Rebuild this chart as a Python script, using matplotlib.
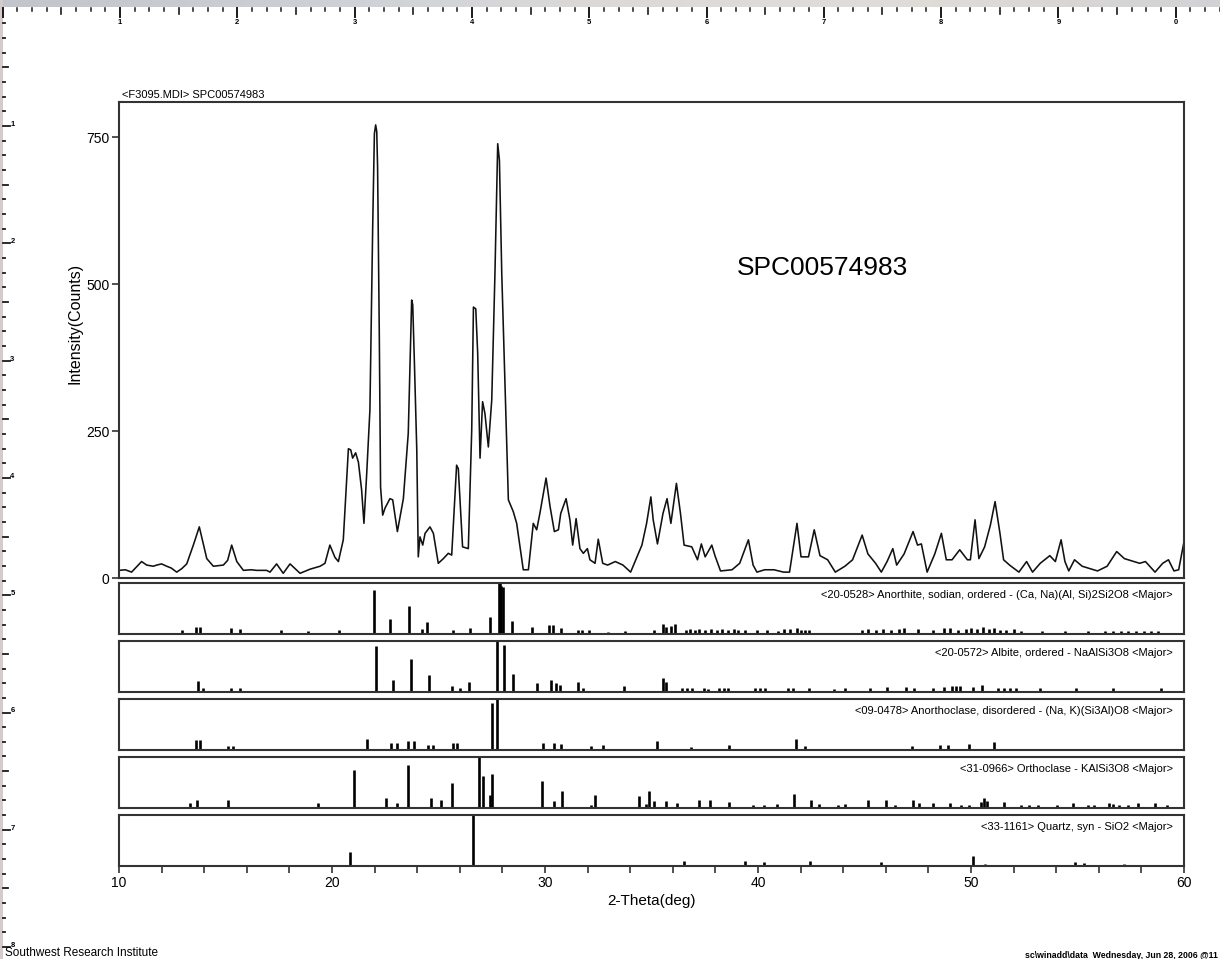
import matplotlib
matplotlib.use('Agg')
import matplotlib.pyplot as plt
import numpy as np

plt.rcParams['font.family'] = ['Liberation Sans', 'DejaVu Sans']

# ---------------- data: measured pattern ----------------
two_theta = [10.0, 10.3, 10.59, 10.8, 11.06, 11.3, 11.61, 11.77, 12.0, 12.24, 12.45, 12.71, 12.95,
             13.18, 13.49, 13.77, 14.12, 14.43, 14.9, 15.1, 15.29, 15.53, 15.84, 16.2, 16.46, 16.93,
             17.09, 17.4, 17.71, 18.03, 18.5, 18.97, 19.44, 19.67, 19.9, 20.14, 20.3, 20.53, 20.66,
             20.77, 20.88, 20.97, 21.11, 21.24, 21.39, 21.5, 21.63, 21.78, 21.91, 21.99, 22.05, 22.1,
             22.14, 22.22, 22.28, 22.38, 22.49, 22.72, 22.85, 23.07, 23.35, 23.58, 23.74, 23.79, 23.87,
             23.98, 24.05, 24.13, 24.26, 24.37, 24.6, 24.76, 24.99, 25.23, 25.46, 25.62, 25.85, 25.93,
             26.13, 26.4, 26.56, 26.64, 26.75, 26.84, 26.95, 27.07, 27.18, 27.34, 27.5, 27.65, 27.78,
             27.86, 27.97, 28.12, 28.28, 28.51, 28.67, 28.98, 29.22, 29.45, 29.61, 29.76, 30.05, 30.24,
             30.44, 30.63, 30.74, 30.99, 31.17, 31.3, 31.46, 31.64, 31.8, 31.99, 32.11, 32.35, 32.5,
             32.71, 32.94, 33.3, 33.66, 34.02, 34.55, 34.77, 34.97, 35.08, 35.28, 35.54, 35.73, 35.91,
             36.17, 36.36, 36.53, 36.89, 37.16, 37.34, 37.52, 37.83, 37.98, 38.24, 38.78, 39.14, 39.55,
             39.77, 39.95, 40.31, 40.75, 41.2, 41.48, 41.83, 42.02, 42.37, 42.64, 42.91, 43.27, 43.63,
             44.08, 44.44, 44.89, 45.16, 45.52, 45.79, 46.06, 46.33, 46.51, 46.86, 47.28, 47.49, 47.67,
             47.94, 48.3, 48.61, 48.84, 49.11, 49.47, 49.83, 49.97, 50.19, 50.37, 50.64, 50.91, 51.13,
             51.36, 51.53, 51.81, 52.25, 52.61, 52.89, 53.25, 53.7, 53.96, 54.23, 54.41, 54.59, 54.86,
             55.22, 55.94, 56.39, 56.84, 57.2, 57.65, 57.92, 58.19, 58.64, 59.0, 59.27, 59.53, 59.75,
             59.98]
counts = [13, 14, 10, 18, 28, 22, 20, 22, 24, 20, 17, 10, 16,
          24, 56, 87, 33, 20, 22, 30, 56, 28, 13, 14, 13, 13,
          10, 24, 8, 24, 8, 15, 20, 25, 56, 35, 28, 65, 150,
          220, 218, 204, 213, 197, 150, 93, 178, 286, 597, 756, 771, 760,
          700, 416, 155, 107, 119, 135, 133, 79, 135, 246, 473, 465, 365,
          218, 36, 70, 56, 76, 87, 76, 25, 33, 42, 39, 192, 186,
          53, 50, 252, 461, 458, 382, 204, 300, 280, 223, 303, 518, 739,
          711, 518, 331, 133, 113, 93, 14, 14, 93, 82, 110, 170, 121,
          79, 82, 110, 135, 99, 56, 101, 50, 42, 50, 31, 25, 66,
          25, 22, 28, 22, 10, 56, 93, 138, 99, 58, 110, 135, 93,
          161, 110, 56, 53, 31, 58, 36, 56, 38, 12, 14, 25, 65,
          22, 10, 14, 14, 10, 10, 93, 36, 36, 82, 38, 31, 10,
          20, 31, 73, 41, 25, 10, 28, 50, 22, 41, 79, 56, 58,
          10, 41, 76, 31, 31, 48, 31, 31, 99, 33, 53, 90, 130,
          76, 31, 22, 10, 28, 10, 25, 38, 28, 65, 28, 12, 31,
          20, 12, 20, 45, 33, 28, 25, 28, 10, 25, 31, 12, 14,
          58]

# ---------------- data: reference stick patterns ----------------
anorthite_pos = [12.94, 13.61, 13.8, 15.24, 15.68, 17.59, 18.89, 20.34, 21.99, 22.72, 23.63, 24.21,
                 24.47, 25.67, 26.48, 27.42, 27.82, 27.88, 27.95, 28.02, 28.47, 29.37, 30.2, 30.39,
                 30.73, 31.56, 31.72, 32.08, 32.97, 33.75, 35.1, 35.54, 35.67, 35.91, 36.08, 36.62,
                 36.8, 37.04, 37.25, 37.52, 37.79, 38.06, 38.3, 38.6, 38.87, 39.05, 39.41, 39.95,
                 40.4, 40.94, 41.21, 41.48, 41.84, 42.02, 42.2, 42.38, 44.86, 45.17, 45.53, 45.89,
                 46.24, 46.6, 46.87, 47.5, 48.22, 48.72, 49.03, 49.39, 49.75, 50.02, 50.29, 50.56,
                 50.83, 51.1, 51.37, 51.64, 52.0, 52.36, 53.34, 54.42, 55.5, 56.3, 56.66, 57.02,
                 57.38, 57.74, 58.1, 58.45, 58.8]
anorthite_int = [8, 13, 13, 12, 9, 8, 5, 7, 87, 30, 54, 9,
                 23, 8, 12, 33, 100, 100, 95, 92, 26, 13, 18, 18,
                 12, 8, 8, 7, 3, 5, 7, 20, 14, 16, 20, 8,
                 10, 8, 10, 8, 10, 8, 10, 8, 10, 8, 8, 8,
                 7, 5, 9, 10, 12, 8, 8, 8, 8, 9, 8, 9,
                 8, 9, 12, 9, 8, 12, 12, 8, 9, 12, 9, 13,
                 9, 12, 8, 7, 10, 5, 5, 5, 5, 5, 5, 5,
                 5, 5, 5, 5, 5]

albite_pos = [13.72, 13.93, 15.24, 15.68, 22.05, 22.88, 23.71, 24.55, 25.62, 26.01, 26.43, 27.73,
              28.09, 28.51, 29.61, 30.28, 30.52, 30.7, 31.53, 31.77, 33.7, 35.54, 35.67, 36.45,
              36.69, 36.9, 37.45, 37.63, 38.17, 38.39, 38.6, 39.87, 40.1, 40.35, 41.4, 41.66,
              42.38, 43.55, 44.09, 45.26, 46.06, 46.96, 47.32, 48.22, 48.72, 49.12, 49.3, 49.48,
              50.11, 50.53, 51.28, 51.55, 51.82, 52.09, 53.25, 54.95, 56.66, 58.9]
albite_int = [21, 8, 8, 8, 90, 23, 65, 33, 12, 8, 19, 100,
              93, 35, 18, 23, 18, 14, 20, 8, 12, 28, 20, 7,
              7, 7, 7, 5, 7, 7, 7, 7, 7, 7, 7, 7,
              7, 5, 7, 7, 10, 10, 7, 7, 10, 12, 12, 12,
              10, 13, 7, 7, 7, 7, 7, 7, 7, 7]

anorthoclase_pos = [13.61, 13.8, 15.13, 15.37, 21.63, 22.77, 23.07, 23.58, 23.85, 24.52, 24.76,
                    25.67, 25.88, 27.49, 27.76, 29.89, 30.44, 30.73, 32.14, 32.7, 35.24, 36.86,
                    38.66, 41.78, 42.23, 47.23, 48.54, 48.93, 49.92, 51.09]
anorthoclase_int = [20, 20, 7, 7, 21, 14, 14, 18, 18, 9, 9,
                    14, 14, 92, 100, 14, 14, 12, 8, 9, 17, 6,
                    9, 21, 7, 7, 10, 10, 12, 15]

orthoclase_pos = [13.33, 13.65, 15.1, 19.36, 21.03, 22.54, 23.07, 23.58, 24.65, 25.12, 25.62, 26.92,
                  27.11, 27.42, 27.49, 29.84, 30.44, 30.78, 32.14, 32.35, 34.41, 34.74, 34.88, 35.1,
                  35.67, 36.21, 37.22, 37.76, 38.66, 39.77, 40.3, 40.88, 41.69, 42.5, 42.86, 43.75,
                  44.08, 45.16, 46.02, 46.41, 47.28, 47.58, 48.2, 49.02, 49.55, 49.91, 50.45, 50.63,
                  50.76, 51.53, 52.34, 52.7, 53.15, 54.05, 54.77, 55.49, 55.76, 56.48, 56.66, 56.93,
                  57.38, 57.83, 58.64, 59.18]
orthoclase_int = [9, 15, 15, 9, 75, 20, 9, 85, 20, 15, 50, 100,
                  62, 25, 67, 53, 14, 34, 6, 25, 23, 8, 34, 14,
                  14, 9, 15, 15, 11, 6, 6, 8, 28, 15, 8, 6,
                  8, 15, 15, 6, 15, 9, 9, 9, 6, 6, 11, 20,
                  14, 11, 6, 6, 6, 6, 9, 6, 6, 9, 8, 6,
                  6, 9, 9, 6]

quartz_pos = [20.85, 26.64, 36.53, 39.41, 40.27, 42.43, 45.79, 50.1, 50.65, 54.86, 55.32, 57.2, 59.98]
quartz_int = [27, 100, 10, 10, 8, 10, 8, 19, 3, 8, 6, 3, 13]

phase_labels = [
    "<20-0528> Anorthite, sodian, ordered - (Ca, Na)(Al, Si)2Si2O8 <Major>",
    "<20-0572> Albite, ordered - NaAlSi3O8 <Major>",
    "<09-0478> Anorthoclase, disordered - (Na, K)(Si3Al)O8 <Major>",
    "<31-0966> Orthoclase - KAlSi3O8 <Major>",
    "<33-1161> Quartz, syn - SiO2 <Major>",
]
phase_pos = [anorthite_pos, albite_pos, anorthoclase_pos, orthoclase_pos, quartz_pos]
phase_int = [anorthite_int, albite_int, anorthoclase_int, orthoclase_int, quartz_int]

y_ticks = [0, 250, 500, 750]
x_ticks = [10, 20, 30, 40, 50, 60]

# ---------------- figure ----------------
W, H = 1220, 959
fig = plt.figure(figsize=(W / 100, H / 100), dpi=100)
fig.patch.set_facecolor('white')

FRAME = '#333333'


def rect(l, t, r, b):
    return [l / W, 1 - b / H, (r - l) / W, (b - t) / H]


def style_frame(a):
    for s in a.spines.values():
        s.set_color(FRAME)
        s.set_linewidth(1.5)


# main pattern
ax = fig.add_axes(rect(119, 102, 1184, 578))
ax.plot(two_theta, counts, color='#111111', lw=1.15)
ax.set_xlim(10, 60)
ax.set_ylim(0, 810)
ax.set_yticks(y_ticks)
ax.set_xticks([])
ax.tick_params(axis='y', direction='out', length=5, width=1.2, labelsize=10, color=FRAME, pad=2)
ax.set_ylabel('Intensity(Counts)', fontsize=11.5)
ax.yaxis.set_label_coords((83 - 119) / 1065, 0.535)
style_frame(ax)
ax.text(0.003, 1.004, '<F3095.MDI> SPC00574983', transform=ax.transAxes, fontsize=8,
        va='bottom', ha='left')
ax.text(39.0, 527, 'SPC00574983', fontsize=19, va='center', ha='left')

# stick panels
tops = [583, 641, 699, 757, 815]
for i, top in enumerate(tops):
    axp = fig.add_axes(rect(119, top, 1184, top + 51))
    axp.vlines(phase_pos[i], 0, phase_int[i], color='black', lw=1.9)
    axp.set_xlim(10, 60)
    axp.set_ylim(0, 100)
    axp.set_yticks([])
    style_frame(axp)
    axp.text(0.9895, 0.77, phase_labels[i], transform=axp.transAxes, fontsize=8,
             ha='right', va='center')
    if i < len(tops) - 1:
        axp.set_xticks([])
    else:
        axp.set_xticks(x_ticks)
        axp.set_xticks(np.arange(10, 61, 2), minor=True)
        axp.tick_params(axis='x', which='both', direction='out', length=5, width=1.2,
                        color=FRAME, labelsize=10, pad=2)
        axp.set_xlabel('2-Theta(deg)', fontsize=11, labelpad=3)

# footer
fig.text(5 / W, 1 - 953 / H, 'Southwest Research Institute', fontsize=8.5, va='center', ha='left')
fig.text(1218 / W, 1 - 955 / H, 'sc\\winadd\\data  Wednesday, Jun 28, 2006 @11', fontsize=6.3,
         va='center', ha='right', weight='bold')

# scanner rulers (decoration, inch rulers with 1/8 divisions)
axr = fig.add_axes([0, 0, 1, 1], zorder=-1)
axr.axis('off')
axr.patch.set_alpha(0)
grad = np.linspace(0, 1, 200)[None, :]
axr.imshow(grad, extent=[0, W, 7.5, 0], aspect='auto',
           cmap=matplotlib.colors.LinearSegmentedColormap.from_list(
               'band', ['#c2c6cc', '#ccd0d6', '#dcdad8', '#e0dcd8', '#d2d2d4']))
axr.fill_between([0, 2.6], 0, H, color='#d6cbca', lw=0)
axr.set_xlim(0, W)
axr.set_ylim(H, 0)
inch = 117.3
step = inch / 8
for k in range(0, 90):
    x = 2.7 + k * step
    if x > W:
        break
    if k % 8 == 0:
        ln, lw = 17, 1.4
    elif k % 4 == 0:
        ln, lw = 14, 1.2
    else:
        ln, lw = 11, 1.1
    axr.plot([x, x], [7.5, ln], color='#1a1a1a', lw=lw)
    if k % 8 == 0 and k > 0:
        axr.text(x, 23, str((k // 8) % 10), fontsize=5.5, ha='center', va='center', weight='bold')
for k in range(1, 70):
    y = 8.7 + k * step
    if y > H:
        break
    if k % 8 == 0:
        axr.plot([2.6, 10], [y, y], color='#1a1a1a', lw=1.3)
        axr.text(10.3, y - 1.5, str(k // 8), fontsize=5.5, ha='left', va='center', weight='bold')
    elif k % 4 == 0:
        axr.plot([2.6, 7.5], [y, y], color='#1a1a1a', lw=1.3)
    else:
        axr.plot([2.6, 4.8], [y, y], color='#1a1a1a', lw=1.3)

fig.savefig('out.png', dpi=100)
